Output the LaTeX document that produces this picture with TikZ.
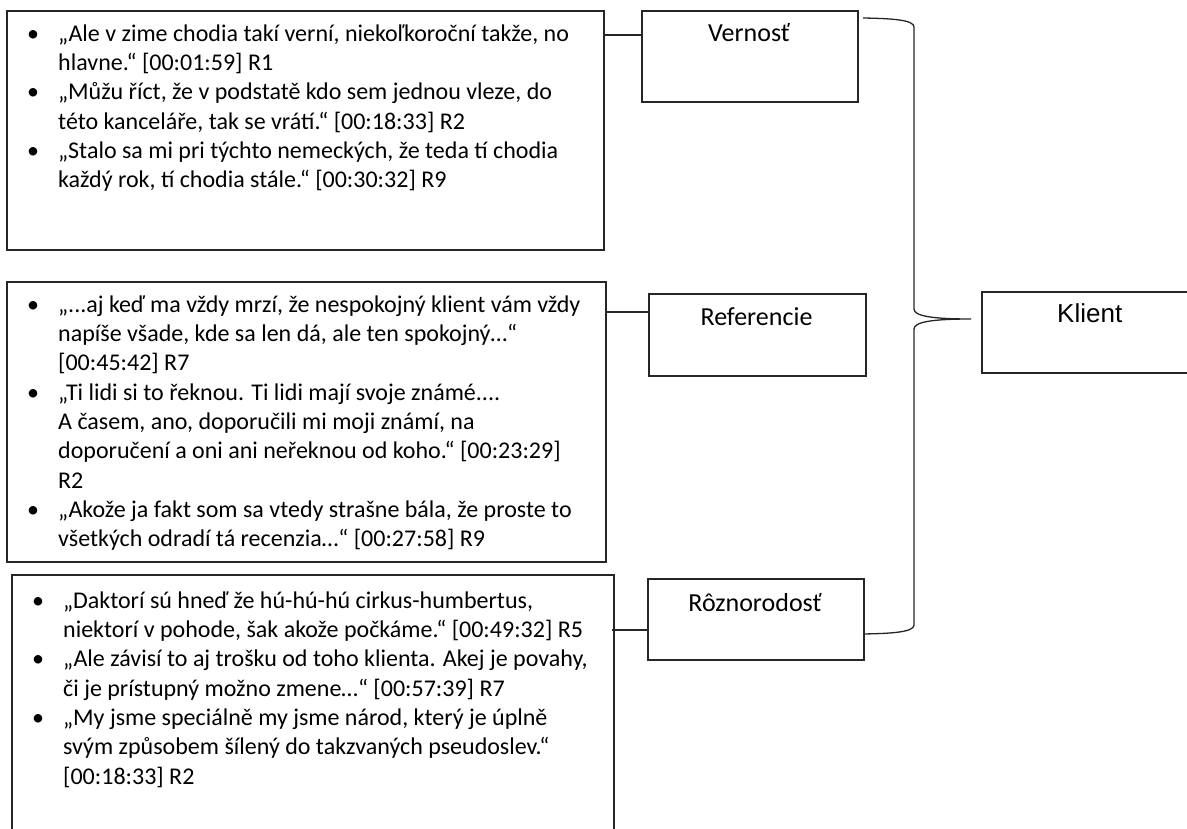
\documentclass[tikz,border=0pt]{standalone}
\usepackage{fontspec}
\setmainfont{Carlito}
\newfontfamily\arialfont{Liberation Sans}
\newcommand\qb{\llap{\makebox[31pt][l]{•}}}
\begin{document}
\begin{tikzpicture}[x=1pt,y=-1pt,
  box/.style={draw=black!85, line width=1.6pt, anchor=north west, inner sep=0pt},
  qtext/.style={font=\fontsize{24pt}{29.3pt}\selectfont, align=left, inner sep=0pt, anchor=north west},
  lab/.style={font=\fontsize{26pt}{31pt}\selectfont, anchor=base, inner sep=0pt},
  conn/.style={draw=black!85, line width=1.1pt},
  brace/.style={draw=black!85, line width=1.3pt}]
\useasboundingbox (0,0) rectangle (1187,829);
\clip (0,0) rectangle (1187,829);
% quote boxes
\node[box, minimum width=597pt, minimum height=239pt] (b1) at (6,10) {};
\node[box, minimum width=599pt, minimum height=280pt] (b2) at (6,281) {};
\node[box, minimum width=602pt, minimum height=280pt] (b3) at (11,574) {};
% category boxes
\node[box, minimum width=216pt, minimum height=91pt] (v) at (641,10) {};
\node[box, minimum width=217pt, minimum height=82pt] (r) at (648,293) {};
\node[box, minimum width=216pt, minimum height=81pt] (z) at (647,578) {};
\node[box, minimum width=260pt, minimum height=81pt] (k) at (981,291) {};
% labels
\node[lab] (vl) at (749,42) {Vernosť};
\node[lab] (rl) at (756.5,326) {Referencie};
\node[lab] (zl) at (755,611) {Rôznorodosť};
\node[lab, font=\arialfont\fontsize{26pt}{31pt}\selectfont, anchor=base west] (kl) at (1057,323) {Klient};
% quote texts
\node[qtext] (t1) at (58,19) {\rule{0pt}{22pt}\qb „Ale v zime chodia takí verní, niekoľkoroční takže, no\\
hlavne.“ [00:01:59] R1\\
\qb „Můžu říct, že v podstatě kdo sem jednou vleze, do\\
této kanceláře, tak se vrátí.“ [00:18:33] R2\\
\qb „Stalo sa mi pri týchto nemeckých, že teda tí chodia\\
každý rok, tí chodia stále.“ [00:30:32] R9};
\node[qtext] (t2) at (58,290) {\rule{0pt}{22pt}\qb „...aj keď ma vždy mrzí, že nespokojný klient vám vždy\\
napíše všade, kde sa len dá, ale ten spokojný…“\\
{[00:45:42]} R7\\
\qb „Ti lidi si to řeknou. Ti lidi mají svoje známé....\\
A časem, ano, doporučili mi moji známí, na\\
doporučení a oni ani neřeknou od koho.“ [00:23:29]\\
R2\\
\qb „Akože ja fakt som sa vtedy strašne bála, že proste to\\
všetkých odradí tá recenzia…“ [00:27:58] R9};
\node[qtext] (t3) at (63,586) {\rule{0pt}{22pt}\qb „Daktorí sú hneď že hú-hú-hú cirkus-humbertus,\\
niektorí v pohode, šak akože počkáme.“ [00:49:32] R5\\
\qb „Ale závisí to aj trošku od toho klienta. Akej je povahy,\\
či je prístupný možno zmene…“ [00:57:39] R7\\
\qb „My jsme speciálně my jsme národ, který je úplně\\
svým způsobem šílený do takzvaných pseudoslev.“\\
{[00:18:33]} R2};
% connectors
\coordinate (y1) at (0,35);
\coordinate (y2) at (0,312);
\coordinate (y3) at (0,630);
\draw[conn] (b1.east |- y1) -- (v.west |- y1);
\draw[conn] (b2.east |- y2) -- (r.west |- y2);
\draw[conn] ([xshift=-3pt]b3.east |- y3) -- (z.west |- y3);
% brace
\coordinate (bt) at (863,18);
\coordinate (bb) at (863,634);
\coordinate (tip) at (971,319);
\draw[brace] (bt) .. controls (893,18.5) and (914,20) .. (914,27) -- (914,309)
  .. controls (914,316) and (932,319) .. (tip)
  .. controls (932,319) and (914,322) .. (914,329) -- (914,625)
  .. controls (914,632) and (893,633.5) .. (bb);
\end{tikzpicture}
\end{document}
